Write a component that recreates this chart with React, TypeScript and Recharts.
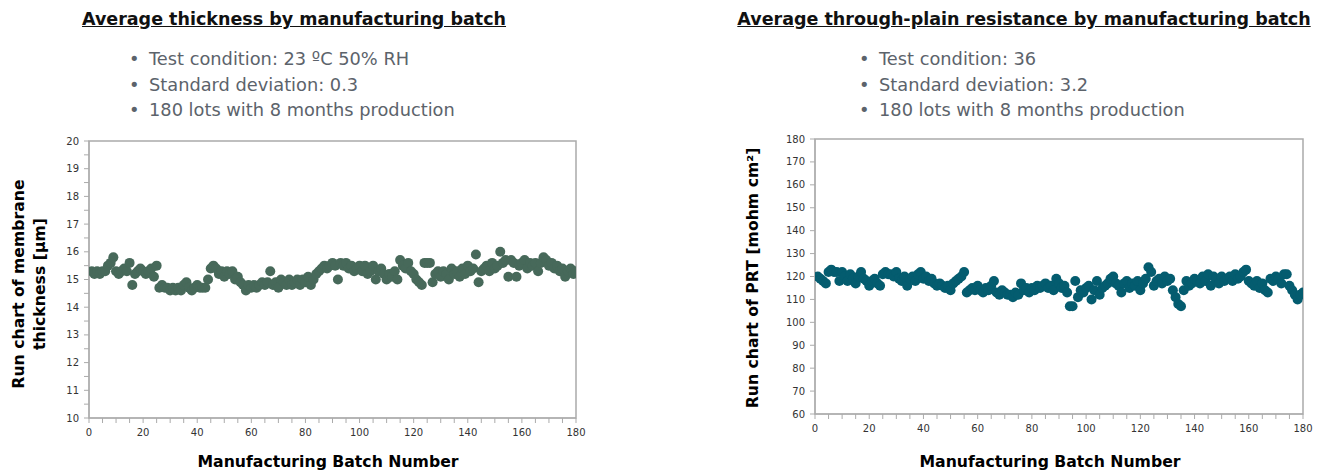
import React from 'react';
import { ScatterChart, Scatter, XAxis, YAxis, ReferenceArea } from 'recharts';

// average membrane thickness per lot [µm], lots 1..180
const thickness = [
  15.3, 15.2, 15.3, 15.2, 15.3, 15.3, 15.5, 15.6, 15.8, 15.3,
  15.2, 15.3, 15.4, 15.3, 15.6, 14.8, 15.2, 15.3, 15.4, 15.3,
  15.2, 15.3, 15.4, 15.1, 15.5, 14.7, 14.8, 14.7, 14.7, 14.6,
  14.7, 14.6, 14.7, 14.6, 14.8, 14.9, 14.7, 14.6, 14.7, 14.8,
  14.7, 14.7, 14.7, 15.0, 15.4, 15.5, 15.4, 15.2, 15.3, 15.1,
  15.3, 15.2, 15.3, 15.0, 15.1, 14.9, 14.8, 14.6, 14.8, 14.7,
  14.8, 14.7, 14.8, 14.9, 14.8, 14.9, 15.3, 14.8, 14.9, 14.7,
  15.0, 14.9, 14.8, 15.0, 14.8, 14.9, 15.0, 14.8, 15.0, 14.9,
  15.1, 14.8, 15.0, 15.2, 15.3, 15.4, 15.5, 15.4, 15.5, 15.6,
  15.5, 15.0, 15.6, 15.5, 15.6, 15.4, 15.5, 15.3, 15.4, 15.5,
  15.3, 15.5, 15.2, 15.3, 15.5, 15.0, 15.3, 15.4, 15.2, 15.0,
  15.2, 15.1, 15.3, 15.0, 15.7, 15.5, 15.4, 15.6, 15.3, 15.2,
  15.0, 14.9, 14.8, 15.6, 15.6, 15.6, 14.9, 15.2, 15.3, 15.1,
  15.3, 15.2, 15.0, 15.4, 15.2, 15.3, 15.1, 15.4, 15.2, 15.5,
  15.3, 15.4, 15.9, 14.9, 15.3, 15.4, 15.5, 15.3, 15.6, 15.4,
  15.5, 16.0, 15.6, 15.7, 15.1, 15.7, 15.6, 15.1, 15.5, 15.6,
  15.7, 15.4, 15.6, 15.5, 15.6, 15.3, 15.6, 15.8, 15.7, 15.5,
  15.6, 15.4, 15.5, 15.3, 15.4, 15.1, 15.3, 15.4, 15.2, 15.3,
];

// through-plane resistance per lot [mohm cm²], lots 1..180
const prt = [
  120, 119, 118, 117, 122, 123, 122, 122, 118, 122,
  120, 118, 121, 119, 117, 120, 122, 119, 118, 116,
  118, 119, 117, 116, 121, 122, 121, 121, 120, 122,
  119, 118, 120, 116, 119, 120, 118, 121, 122, 119,
  120, 118, 119, 117, 116, 117, 116, 115, 116, 114,
  117, 118, 119, 120, 122, 113, 114, 115, 114, 116,
  114, 113, 115, 114, 116, 118, 113, 112, 114, 113,
  112, 112, 111, 113, 112, 117, 114, 115, 113, 115,
  114, 116, 115, 116, 117, 115, 116, 114, 119, 117,
  115, 116, 113, 107, 107, 118, 111, 114, 113, 115,
  116, 110, 114, 118, 112, 115, 116, 117, 119, 120,
  117, 116, 113, 117, 118, 115, 117, 116, 118, 114,
  117, 119, 124, 122, 116, 118, 119, 117, 120, 118,
  119, 114, 111, 108, 107, 114, 118, 116, 117, 119,
  118, 117, 120, 118, 121, 116, 120, 119, 117, 120,
  118, 119, 120, 118, 121, 119, 120, 122, 123, 118,
  117, 116, 118, 115, 117, 114, 113, 119, 118, 120,
  119, 117, 121, 121, 116, 114, 112, 110, 112, 113,
];

const xTicks = [0, 5, 10, 15, 20, 25, 30, 35, 40, 45, 50, 55, 60, 65, 70, 75, 80, 85, 90,
  95, 100, 105, 110, 115, 120, 125, 130, 135, 140, 145, 150, 155, 160, 165, 170, 175, 180];
const thicknessTicks = [10, 10.5, 11, 11.5, 12, 12.5, 13, 13.5, 14, 14.5, 15, 15.5, 16,
  16.5, 17, 17.5, 18, 18.5, 19, 19.5, 20];
const prtTicks = [60, 70, 80, 90, 100, 110, 120, 130, 140, 150, 160, 170, 180];

const thicknessBullets = ['Test condition: 23 ºC 50% RH', 'Standard deviation: 0.3', '180 lots with 8 months production'];
const prtBullets = ['Test condition: 36', 'Standard deviation: 3.2', '180 lots with 8 months production'];

const FONT = '"DejaVu Sans", Verdana, sans-serif';
const AXIS_GREY = '#ababab';
const tickStyle = { fontSize: 10, fill: '#333', fontFamily: FONT };

const dot = (color: string) => (props: any) => (
  <circle cx={props.cx} cy={props.cy} r={5} fill={color} />
);

const Title = ({ text, center }: { text: string; center: number }) => (
  <div style={{
    position: 'absolute', left: center - 320, width: 640, top: 9, textAlign: 'center',
    fontWeight: 'bold', fontSize: 17.5, textDecoration: 'underline', color: '#111', whiteSpace: 'nowrap',
  }}>{text}</div>
);

const Bullets = ({ items, left }: { items: string[]; left: number }) => (
  <div style={{ position: 'absolute', left, top: 46, color: '#5c636b', fontSize: 17.8 }}>
    {items.map((t) => (
      <div key={t} style={{ height: 25.5, lineHeight: '25.5px', whiteSpace: 'nowrap' }}>
        <span style={{ display: 'inline-block', width: 20 }}>•</span>{t}
      </div>
    ))}
  </div>
);

const AxisTitle = ({ text, left, top }: { text: string; left: number; top: number }) => (
  <div style={{
    position: 'absolute', left: left - 200, width: 400, top, textAlign: 'center',
    fontWeight: 'bold', fontSize: 15.7, color: '#000', whiteSpace: 'nowrap',
  }}>{text}</div>
);

const VerticalTitle = ({ lines, cx, cy }: { lines: string[]; cx: number; cy: number }) => (
  <div style={{
    position: 'absolute', left: cx - 200, top: cy - 25, width: 400, height: 50,
    transform: 'rotate(-90deg)', display: 'flex', flexDirection: 'column',
    justifyContent: 'center', alignItems: 'center',
    fontWeight: 'bold', fontSize: 15.7, color: '#000', lineHeight: '21px', whiteSpace: 'nowrap',
  }}>
    {lines.map((l) => <div key={l}>{l}</div>)}
  </div>
);

export default function App() {
  const thicknessData = thickness.map((v, i) => ({ batch: i + 1, value: v }));
  const prtData = prt.map((v, i) => ({ batch: i + 1, value: v }));
  const xFmt = (v: number) => (v % 20 === 0 ? String(v) : '');

  return (
    <div style={{
      position: 'absolute', left: 0, top: 0, width: 1325, height: 472,
      background: '#fff', overflow: 'hidden', fontFamily: FONT,
    }}>
      <Title text="Average thickness by manufacturing batch" center={294} />
      <Title text="Average through-plain resistance by manufacturing batch" center={1024} />
      <Bullets items={thicknessBullets} left={129} />
      <Bullets items={prtBullets} left={859} />

      <div style={{ position: 'absolute', left: 0, top: 120 }}>
        <ScatterChart width={600} height={352} margin={{ top: 21, right: 24, bottom: 24, left: 0 }}>
          <XAxis type="number" dataKey="batch" domain={[0, 180]} ticks={xTicks} interval={0}
            tickFormatter={xFmt} tick={tickStyle} tickSize={5} tickMargin={6} height={30}
            stroke={AXIS_GREY} allowDataOverflow />
          <YAxis type="number" dataKey="value" domain={[10, 20]} ticks={thicknessTicks} interval={0}
            tickFormatter={(v: number) => (Number.isInteger(v) ? String(v) : '')}
            tick={tickStyle} tickSize={5} tickMargin={5} width={89} stroke={AXIS_GREY} allowDataOverflow />
          <ReferenceArea x1={0} x2={180} y1={10} y2={20} fill="none" stroke={AXIS_GREY} strokeWidth={1.5} />
          <Scatter data={thicknessData} shape={dot('#47695a')} isAnimationActive={false} />
        </ScatterChart>
      </div>

      <div style={{ position: 'absolute', left: 700, top: 120 }}>
        <ScatterChart width={625} height={352} margin={{ top: 19, right: 22, bottom: 28, left: 0 }}>
          <XAxis type="number" dataKey="batch" domain={[0, 180]} ticks={xTicks} interval={0}
            tickFormatter={xFmt} tick={tickStyle} tickSize={5} tickMargin={6} height={30}
            stroke={AXIS_GREY} allowDataOverflow />
          <YAxis type="number" dataKey="value" domain={[60, 180]} ticks={prtTicks} interval={0}
            tick={tickStyle} tickSize={5} tickMargin={5} width={115} stroke={AXIS_GREY} allowDataOverflow />
          <ReferenceArea x1={0} x2={180} y1={60} y2={180} fill="none" stroke={AXIS_GREY} strokeWidth={1.5} />
          <Scatter data={prtData} shape={dot('#045c6f')} isAnimationActive={false} />
        </ScatterChart>
      </div>

      <AxisTitle text="Manufacturing Batch Number" left={328} top={452} />
      <AxisTitle text="Manufacturing Batch Number" left={1050} top={452} />
      <VerticalTitle lines={['Run chart of membrane', 'thickness [µm]']} cx={29} cy={284} />
      <VerticalTitle lines={['Run chart of PRT [mohm cm²]']} cx={752} cy={278} />
    </div>
  );
}
